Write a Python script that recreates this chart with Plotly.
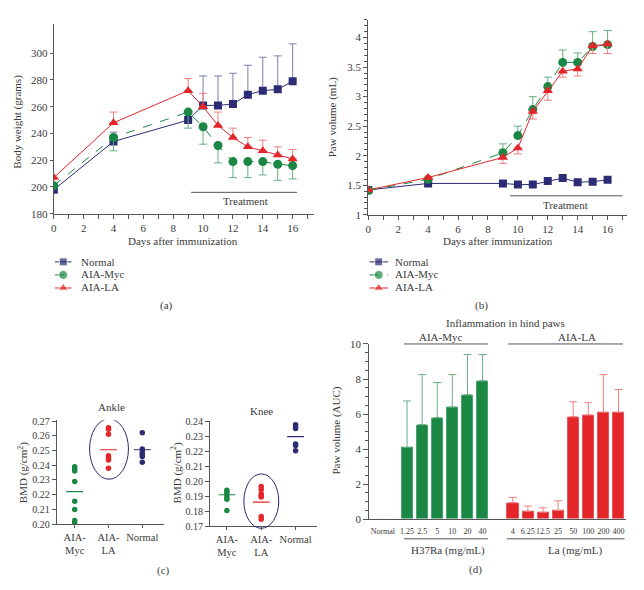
import plotly.graph_objects as go

# ---- panel (a) / (b): time course ----
days = [0, 4, 9, 10, 11, 12, 13, 14, 15, 16]
groups = ["Normal", "AIA-Myc", "AIA-LA"]

bw_normal = [198, 234, 250, 261, 261, 262, 269, 272, 273, 279]
bw_normal_err = [0, 7, 0, 22, 22, 23, 22, 25, 25, 28]
bw_myc = [201, 237, 256, 245, 231, 219, 219, 219, 217, 216]
bw_myc_err = [0, 10, 12, 13, 13, 12, 12, 10, 12, 10]
bw_la = [207, 248, 272, 260, 246, 237, 230, 227, 224, 221]
bw_la_err = [0, 8, 9, 10, 10, 7, 7, 8, 6, 7]

paw_normal = [1.42, 1.53, 1.53, 1.51, 1.51, 1.57, 1.62, 1.55, 1.56, 1.59]
paw_myc = [1.41, 1.60, 2.05, 2.34, 2.78, 3.17, 3.58, 3.58, 3.85, 3.88]
paw_myc_err = [0, 0, 0.15, 0.16, 0.22, 0.16, 0.21, 0.16, 0.25, 0.24]
paw_la = [1.42, 1.63, 1.97, 2.13, 2.75, 3.10, 3.43, 3.47, 3.86, 3.89]
paw_la_err = [0, 0, 0.10, 0.10, 0.13, 0.16, 0.10, 0.12, 0.13, 0.16]

# ---- panel (c): BMD ----
bmd_cats = ["AIA-<br>Myc", "AIA-<br>LA", "Normal"]
ankle_myc = [0.239, 0.2375, 0.236, 0.229, 0.2155, 0.210, 0.2025, 0.201]
ankle_la = [0.2655, 0.2645, 0.261, 0.2465, 0.245, 0.2435, 0.238]
ankle_normal = [0.262, 0.251, 0.249, 0.2475, 0.246, 0.242]
ankle_means = [0.222, 0.2505, 0.2505]
knee_myc = [0.194, 0.1925, 0.191, 0.189, 0.188, 0.1805]
knee_la = [0.1965, 0.1945, 0.1915, 0.1905, 0.1895, 0.1765, 0.1745]
knee_normal = [0.238, 0.2365, 0.2355, 0.225, 0.224, 0.2205]
knee_means = [0.191, 0.186, 0.230]

# ---- panel (d): inflammation AUC ----
d_normal_lbl = ["Normal"]
d_normal_val = [0]
h37_lbl = ["1.25", "2.5", "5", "10", "20", "40"]
h37_val = [4.1, 5.4, 5.8, 6.4, 7.1, 7.9]
h37_err = [2.65, 2.85, 2.0, 1.85, 2.3, 1.5]
la_lbl = ["4", "6.25", "12.5", "25", "50", "100", "200", "400"]
la_val = [0.95, 0.45, 0.4, 0.5, 5.85, 5.95, 6.1, 6.1]
la_err = [0.3, 0.3, 0.25, 0.55, 0.85, 0.7, 2.15, 1.3]

NAVY = "#2b2c73"
GREEN = "#1b8744"
RED = "#e4262b"
TXT = "#3a3a3a"
AX = "#555555"
FONT = "Liberation Serif"

# page body keeps its 8px margin, so the figure is 16px smaller than the window
OFF = 8
W, H = 644 - 2 * OFF, 590 - 2 * OFF
def px(x):
    return (x - OFF) / W
def py(y):
    return 1 - (y - OFF) / H

styles = {
    "Normal": dict(line=dict(color=NAVY, width=1), symbol="square", size=8, color=NAVY),
    "AIA-Myc": dict(line=dict(color=GREEN, width=1, dash="dash"), symbol="circle", size=9, color=GREEN),
    "AIA-LA": dict(line=dict(color=RED, width=1), symbol="triangle-up", size=9, color=RED),
}
err_col = {"Normal": "#7c7eae", "AIA-Myc": "#6aae83", "AIA-LA": "#ee7f80"}

def err(up, down, name):
    return dict(type="data", symmetric=False, array=up, arrayminus=down,
                color=err_col[name], thickness=1, width=4)

zeros = [0] * len(days)
fig = go.Figure()

def series(x, y, name, xa, ya, e=None):
    s = styles[name]
    fig.add_trace(go.Scatter(x=x, y=y, name=name, mode="lines+markers", line=s["line"],
                             marker=dict(symbol=s["symbol"], size=s["size"], color=s["color"]),
                             error_y=e, showlegend=False, xaxis=xa, yaxis=ya))

# panel (a)
series(days, bw_normal, "Normal", "x", "y", err(bw_normal_err, zeros, "Normal"))
series(days, bw_myc, "AIA-Myc", "x", "y", err(zeros, bw_myc_err, "AIA-Myc"))
series(days, bw_la, "AIA-LA", "x", "y", err(bw_la_err, zeros, "AIA-LA"))

# panel (b)
series(days, paw_normal, "Normal", "x2", "y2")
series(days, paw_myc, "AIA-Myc", "x2", "y2", err(paw_myc_err, zeros, "AIA-Myc"))
series(days, paw_la, "AIA-LA", "x2", "y2", err(zeros, paw_la_err, "AIA-LA"))

# compact legends for (a) and (b): line sample with marker in the middle
for xa, ya in [("x6", "y6"), ("x7", "y7")]:
    for i, g in enumerate(groups):
        s = styles[g]
        fig.add_trace(go.Scatter(x=[0, 0.5, 1], y=[i, i, i], mode="lines+markers",
                                 line=s["line"], showlegend=False, hoverinfo="skip",
                                 marker=dict(symbol=s["symbol"], size=[0, s["size"], 0],
                                             color=s["color"]),
                                 xaxis=xa, yaxis=ya))

# panel (c)
for ax, sets, means in [("3", [ankle_myc, ankle_la, ankle_normal], ankle_means),
                        ("4", [knee_myc, knee_la, knee_normal], knee_means)]:
    for cat, vals, col in zip(bmd_cats, sets, [GREEN, RED, NAVY]):
        fig.add_trace(go.Scatter(x=[cat] * len(vals), y=vals, mode="markers",
                                 marker=dict(size=5.5, color=col), showlegend=False,
                                 xaxis="x" + ax, yaxis="y" + ax))
    fig.add_trace(go.Scatter(x=bmd_cats, y=means, mode="markers", showlegend=False,
                             marker=dict(symbol="line-ew", size=12,
                                         line=dict(width=1.2, color=[GREEN, RED, NAVY])),
                             xaxis="x" + ax, yaxis="y" + ax))

# panel (d)
pos_normal = [0.9]
pos_h37 = [2.5 + i for i in range(len(h37_lbl))]
pos_la = [9.5 + i for i in range(len(la_lbl))]
fig.add_trace(go.Bar(x=pos_normal, y=d_normal_val, marker_color=GREEN, width=0.8,
                     showlegend=False, xaxis="x5", yaxis="y5"))
fig.add_trace(go.Bar(x=pos_h37, y=h37_val, marker_color=GREEN, width=0.8,
                     error_y=err(h37_err, [0] * len(h37_val), "AIA-Myc"),
                     showlegend=False, xaxis="x5", yaxis="y5"))
fig.add_trace(go.Bar(x=pos_la, y=la_val, marker_color=RED, width=0.8,
                     error_y=err(la_err, [0] * len(la_val), "AIA-LA"),
                     showlegend=False, xaxis="x5", yaxis="y5"))

base_ax = dict(showgrid=False, zeroline=False, showline=True, linecolor=AX, linewidth=1,
               ticks="outside", tickcolor=AX, ticklen=4,
               tickfont=dict(family=FONT, size=11, color=TXT))

day_x = dict(base_ax, range=[0, 17.4], dtick=2, tick0=0,
             minor=dict(dtick=1, ticks="outside", ticklen=4, tickcolor=AX))

hidden = dict(visible=False, showgrid=False, zeroline=False)

yd3 = [py(529), py(423)]
yd4 = [py(531), py(424)]
yr4 = [0.17, 0.2403]

fig.update_layout(
    width=W, height=H, margin=dict(l=0, r=0, t=0, b=0),
    paper_bgcolor="white", plot_bgcolor="white",
    font=dict(family=FONT, size=11, color=TXT),
    bargap=0, showlegend=False,
    xaxis=dict(day_x, domain=[px(51), px(312)], anchor="y"),
    yaxis=dict(base_ax, domain=[py(212), py(18)], range=[180, 322], anchor="x",
               tickvals=[180, 200, 220, 240, 260, 280, 300], ticklen=3),
    xaxis2=dict(day_x, domain=[px(367), px(627)], range=[0, 17.3], anchor="y2"),
    yaxis2=dict(base_ax, domain=[py(213), py(14)], range=[1, 4.3], anchor="x2",
                tickvals=[1, 1.5, 2, 2.5, 3, 3.5, 4],
                minor=dict(dtick=0.1, tick0=1, ticks="outside", ticklen=3, tickcolor=AX)),
    xaxis3=dict(base_ax, domain=[px(54), px(162)], range=[-0.53, 2.65], anchor="y3",
                type="category", ticklen=3, tickfont=dict(family=FONT, size=10.5, color=TXT)),
    yaxis3=dict(base_ax, domain=yd3, range=[0.2, 0.2705], anchor="x3", dtick=0.01,
                tickformat=".2f", tickfont=dict(family=FONT, size=10, color=TXT)),
    xaxis4=dict(base_ax, domain=[px(208), px(315)], range=[-0.49, 2.61], anchor="y4",
                type="category", ticklen=3, tickfont=dict(family=FONT, size=10.5, color=TXT)),
    yaxis4=dict(base_ax, domain=yd4, range=yr4, anchor="x4", dtick=0.01,
                tickformat=".2f", tickfont=dict(family=FONT, size=10, color=TXT)),
    xaxis5=dict(base_ax, domain=[px(368), px(626)], range=[0, 17], anchor="y5",
                ticks="", tickvals=pos_normal + pos_h37 + pos_la, tickangle=0,
                ticktext=d_normal_lbl + h37_lbl + la_lbl, ticklabelstandoff=4,
                tickfont=dict(family=FONT, size=8, color=TXT)),
    yaxis5=dict(base_ax, domain=[py(524), py(345)], range=[0, 10], anchor="x5", dtick=2,
                ticklen=5,
                minor=dict(dtick=0.5, ticks="outside", ticklen=3, tickcolor=AX)),
    xaxis6=dict(hidden, domain=[px(52), px(69)], range=[0, 1], anchor="y6"),
    yaxis6=dict(hidden, domain=[py(294.5), py(254.5)], range=[2.5, -0.5], anchor="x6"),
    xaxis7=dict(hidden, domain=[px(368), px(387)], range=[0, 1], anchor="y7"),
    yaxis7=dict(hidden, domain=[py(294.5), py(254.5)], range=[2.5, -0.5], anchor="x7"),
)

shapes = [
    dict(type="line", xref="x", yref="y", x0=9.2, x1=16.3, y0=196, y1=196,
         line=dict(color=AX, width=1)),
    dict(type="line", xref="x2", yref="y2", x0=9.47, x1=17.0, y0=1.32, y1=1.32,
         line=dict(color=AX, width=1)),
    dict(type="circle", xref="x3", yref="y3", x0=0.44, x1=1.59, y0=0.2305, y1=0.2715,
         line=dict(color=NAVY, width=1)),
    # knee ellipse dips just below the axis, so place it in paper y
    dict(type="circle", xref="x4", yref="paper", x0=0.495, x1=1.51,
         y0=yd4[0] + (0.1685 - yr4[0]) / (yr4[1] - yr4[0]) * (yd4[1] - yd4[0]),
         y1=yd4[0] + (0.205 - yr4[0]) / (yr4[1] - yr4[0]) * (yd4[1] - yd4[0]),
         line=dict(color=NAVY, width=1)),
    dict(type="line", xref="x5", yref="paper", x0=2.3, x1=7.85, y0=py(345), y1=py(345),
         line=dict(color=AX, width=1)),
    dict(type="line", xref="x5", yref="paper", x0=9.2, x1=16.8, y0=py(345), y1=py(345),
         line=dict(color=AX, width=1)),
    dict(type="line", xref="x5", yref="paper", x0=2.3, x1=7.85, y0=py(544), y1=py(544),
         line=dict(color=AX, width=1)),
    dict(type="line", xref="x5", yref="paper", x0=9.1, x1=16.9, y0=py(544), y1=py(544),
         line=dict(color=AX, width=1)),
]
fig.update_layout(shapes=shapes)

def note(text, x, y, size=11, angle=0, xanchor="center"):
    fig.add_annotation(text=text, x=px(x), y=py(y), xref="paper", yref="paper",
                       showarrow=False, textangle=angle, xanchor=xanchor, yanchor="middle",
                       font=dict(family=FONT, size=size, color=TXT))

for i, g in enumerate(groups):
    note(g, 76, 261 + 13 * i, xanchor="left")
    note(g, 392, 261 + 13 * i, xanchor="left")

note("Treatment", 244, 199)
note("Treatment", 565, 203)
note("Days after immunization", 181, 240)
note("Days after immunization", 497, 240)
note("Body weight (grams)", 15, 118, angle=-90)
note("Paw volume (mL)", 331, 113, angle=-90)
note("(a)", 164, 306)
note("(b)", 481, 306)
note("Ankle", 109, 409)
note("Knee", 260, 413)
note("BMD (g/cm<sup>2</sup>)", 20, 476, angle=-90)
note("BMD (g/cm<sup>2</sup>)", 174, 477, angle=-90)
note("(c)", 161, 576)
note("Inflammation in hind paws", 505, 324)
note("AIA-Myc", 440, 338)
note("AIA-LA", 577, 338)
note("Paw volume (AUC)", 335, 433, angle=-90)
note("H37Ra (mg/mL)", 447, 556)
note("La (mg/mL)", 575, 556)
note("(d)", 475, 575)

fig.write_html("out.html")
